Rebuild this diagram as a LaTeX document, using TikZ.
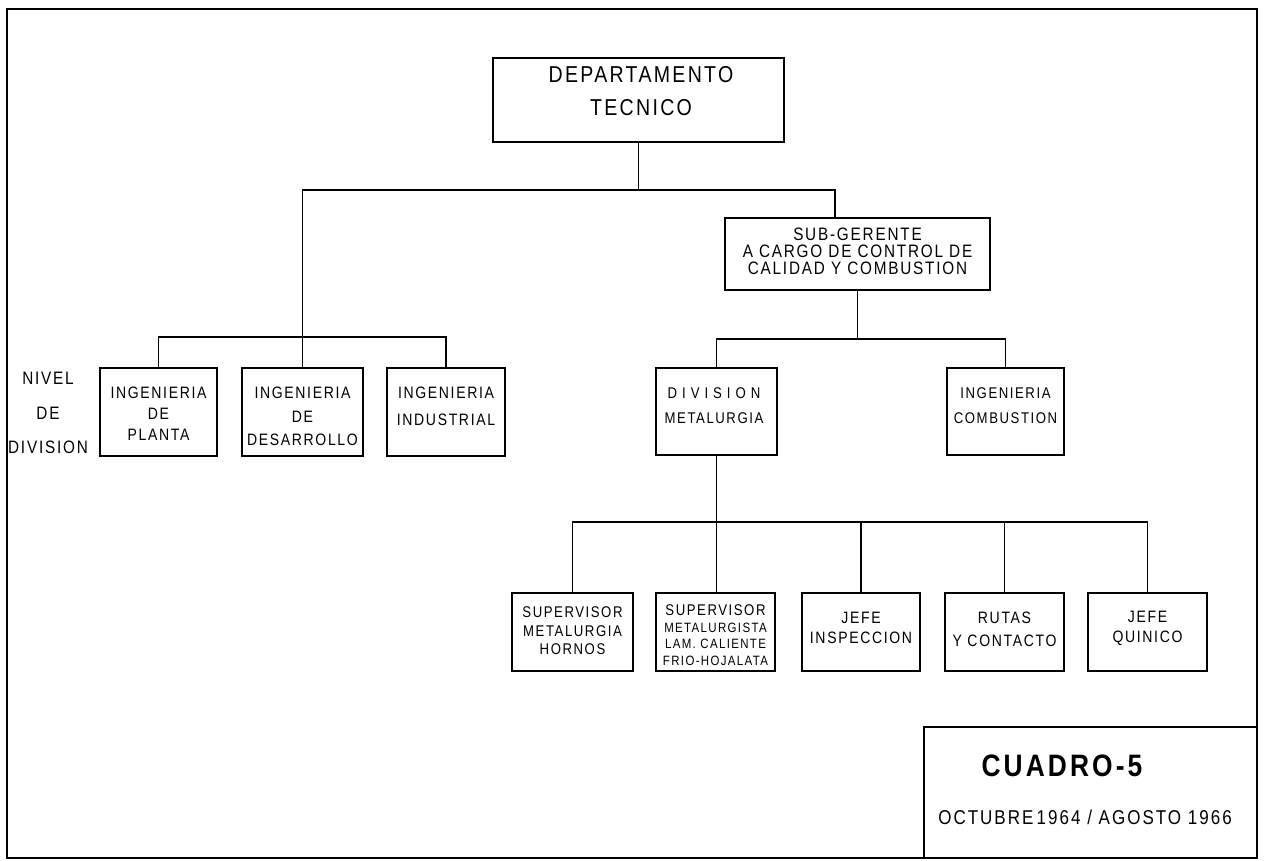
\documentclass[tikz,border=0pt]{standalone}
\usepackage{fontspec}
\newfontfamily\hand{Liberation Sans}[LetterSpace=10,FakeStretch=0.85]
\begin{document}
\begin{tikzpicture}[x=1pt,y=-1pt,
  ln/.style={line width=1.7pt},
  box/.style={draw,line width=1.7pt,inner sep=0pt},
  txt/.style={align=center,inner sep=0pt}]
\useasboundingbox (0,0) rectangle (1268,861);
% frame
\draw[line width=2pt] (7,9) rectangle (1257,858);
% boxes
\node[box,minimum width=291pt,minimum height=84pt] (dep) at (638.5,100) {};
\node[box,minimum width=265pt,minimum height=72pt] (sub) at (857.5,254) {};
\node[box,minimum width=117pt,minimum height=88pt] (ingpla) at (158.5,412) {};
\node[box,minimum width=121pt,minimum height=88pt] (ingdes) at (302.5,412) {};
\node[box,minimum width=118pt,minimum height=88pt] (ingind) at (446,412) {};
\node[box,minimum width=121pt,minimum height=87pt] (divmet) at (716.5,411.5) {};
\node[box,minimum width=117pt,minimum height=87pt] (ingcomb) at (1005.5,411.5) {};
\node[box,minimum width=121pt,minimum height=78pt] (b1) at (572.5,632) {};
\node[box,minimum width=119pt,minimum height=78pt] (b2) at (715.5,632) {};
\node[box,minimum width=118pt,minimum height=78pt] (b3) at (861,632) {};
\node[box,minimum width=119pt,minimum height=78pt] (b4) at (1004.5,632) {};
\node[box,minimum width=119pt,minimum height=78pt] (b5) at (1147.5,632) {};
% cuadro box
\coordinate (cq1) at (924,858);
\coordinate (cq2) at (1257,727);
\draw[line width=1.7pt] (cq1) |- (cq2);
% texts
\node[txt,font=\hand\fontsize{23}{33}\selectfont] (tdep) at (641,91.5) {DEPARTAMENTO\\TECNICO};
\node[txt,font=\hand\fontsize{18}{34.5}\selectfont] (tniv) at (48,413) {NIVEL\\DE\\DIVISION};
\node[txt,font=\hand\fontsize{16.5}{21}\selectfont] (tingpla) at (158.5,414) {INGENIERIA\\DE\\PLANTA};
\node[txt,font=\hand\fontsize{16.5}{23.5}\selectfont] (tingdes) at (302.5,416.5) {INGENIERIA\\DE\\DESARROLLO};
\node[txt,font=\hand\fontsize{16.5}{27}\selectfont] (tingind) at (446,406.5) {INGENIERIA\\INDUSTRIAL};
\node[txt,font=\hand\fontsize{18}{17}\selectfont] (tsub) at (857.5,251) {SUB-GERENTE\\A CARGO DE CONTROL DE\\CALIDAD Y COMBUSTION};
\node[txt,font=\hand\fontsize{15.5}{25}\selectfont] (tdiv) at (714,405.5) {{\addfontfeatures{LetterSpace=32}DIVISION}\\METALURGIA};
\node[txt,font=\hand\fontsize{15.5}{25}\selectfont] (tcomb) at (1005.5,405.5) {INGENIERIA\\COMBUSTION};
\node[txt,font=\hand\fontsize{15.5}{18.5}\selectfont] (tb1) at (572.5,631) {SUPERVISOR\\METALURGIA\\HORNOS};
\node[txt,font=\hand\fontsize{13.5}{16.7}\selectfont] (tb2) at (715.5,635) {{\fontsize{15.5}{16.7}\selectfont SUPERVISOR}\\METALURGISTA\\LAM. CALIENTE\\FRIO-HOJALATA};
\node[txt,font=\hand\fontsize{16.5}{20}\selectfont] (tb3) at (861,628) {JEFE\\INSPECCION};
\node[txt,font=\hand\fontsize{16.5}{23}\selectfont] (tb4) at (1004.5,629.5) {RUTAS\\Y CONTACTO};
\node[txt,font=\hand\fontsize{16.5}{20}\selectfont] (tb5) at (1147.5,628) {JEFE\\QUINICO};
\node[txt,font=\hand\bfseries\fontsize{31}{34}\selectfont] (tcuadro) at (1062,766) {CUADRO-5};
\node[txt,font=\hand\fontsize{20}{22}\selectfont] (tfecha) at (1085,817) {OCTUBRE\,1964 / AGOSTO 1966};
% connectors
\coordinate (j1) at (638.5,190);
\coordinate (subtop) at (835,218);
\draw[ln] (dep.south) -- (j1);
\draw[ln] (j1) -| (ingdes.north);
\draw[ln] (j1) -| (subtop);
\draw[ln] (ingpla.north) -- ++(0,-30) -| (ingind.north);
\draw[ln] (sub.south) -- ++(0,48) coordinate (j2);
\draw[ln] (divmet.north) |- (j2) -| (ingcomb.north);
\draw[ln] (divmet.south) -- (divmet.south |- b2.north);
\draw[ln] (b1.north) -- ++(0,-70) -| (b5.north);
\draw[ln] (b3.north) -- ++(0,-70);
\draw[ln] (b4.north) -- ++(0,-70);
\end{tikzpicture}
\end{document}
